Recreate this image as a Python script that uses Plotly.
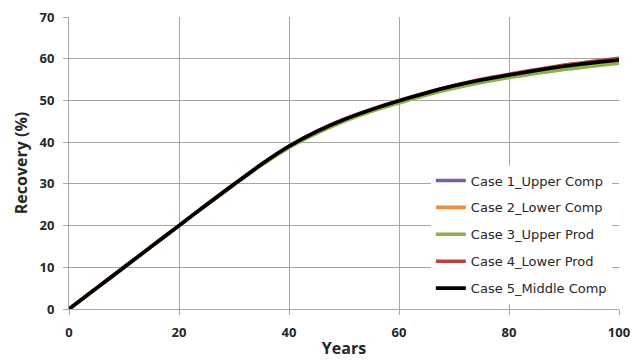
import plotly.graph_objects as go

years = [0, 5, 10, 15, 20, 25, 30, 35, 40, 45, 50, 55, 60, 65, 70, 75, 80, 85, 90, 95, 100]

case1_upper_comp = [0, 5, 10, 15, 20, 25, 29.9, 34.7, 39.0, 42.5, 45.4, 47.8, 49.9, 51.8, 53.5, 54.9, 56.1, 57.2, 58.2, 59.0, 59.7]
case2_lower_comp = [0, 5, 10, 15, 20, 25, 29.9, 34.6, 38.9, 42.4, 45.3, 47.7, 49.8, 51.7, 53.4, 54.8, 56.0, 57.1, 58.0, 58.8, 59.5]
case3_upper_prod = [0, 5, 10, 15, 20, 25, 29.8, 34.5, 38.7, 42.1, 45.0, 47.4, 49.4, 51.3, 52.9, 54.3, 55.5, 56.5, 57.4, 58.2, 58.9]
case4_lower_prod = [0, 5, 10, 15, 20, 25, 29.9, 34.7, 39.0, 42.6, 45.5, 47.9, 50.0, 51.9, 53.6, 55.1, 56.3, 57.4, 58.5, 59.3, 60.1]
case5_middle_comp = [0, 5, 10, 15, 20, 25, 29.9, 34.7, 39.0, 42.5, 45.4, 47.8, 49.9, 51.8, 53.5, 54.9, 56.1, 57.2, 58.2, 59.0, 59.7]

series_names = ["Case 1_Upper Comp", "Case 2_Lower Comp", "Case 3_Upper Prod",
                "Case 4_Lower Prod", "Case 5_Middle Comp"]
series_values = [case1_upper_comp, case2_lower_comp, case3_upper_prod,
                 case4_lower_prod, case5_middle_comp]
series_colors = ["#7D5FA0", "#F08C3C", "#8CB04E", "#B8453F", "#000000"]

x_ticks = [0, 20, 40, 60, 80, 100]
y_ticks = [0, 10, 20, 30, 40, 50, 60, 70]

fig = go.Figure()
for name, vals, col in zip(series_names, series_values, series_colors):
    fig.add_trace(go.Scatter(
        x=years, y=vals, mode="lines", name=name,
        line=dict(color=col, width=3.6, shape="spline", smoothing=0.6),
        legendgroup=name,
    ))

font_family = "'Open Sans', Lato, sans-serif"
legend_family = "'DejaVu Sans', 'Open Sans', sans-serif"
grid_col = "#A6A6A6"
txt_col = "#262626"

fig.update_layout(
    width=636, height=354,
    margin=dict(l=61, r=25, t=9, b=53),
    paper_bgcolor="white", plot_bgcolor="white",
    font=dict(family=font_family, color=txt_col),
    showlegend=True,
    legend=dict(
        x=0.987, y=0.255, xanchor="right", yanchor="middle",
        bgcolor="white", borderwidth=0,
        font=dict(size=13, family=legend_family, color=txt_col),
        tracegroupgap=7,
        traceorder="grouped",
    ),
    xaxis=dict(
        range=[0, 100], tickvals=x_ticks, ticktext=[str(v) for v in x_ticks],
        showgrid=True, gridcolor=grid_col, gridwidth=1,
        showline=True, linecolor=grid_col, linewidth=1,
        ticks="outside", ticklen=5, tickcolor=grid_col,
        ticklabelstandoff=6, ticklabeloverflow="allow",
        tickfont=dict(size=13, family=font_family, color=txt_col, weight="bold"),
        title=dict(text="<b>Years</b>", font=dict(size=16, family=font_family, color=txt_col), standoff=3),
        zeroline=False, automargin=False,
    ),
    yaxis=dict(
        range=[0, 70], tickvals=y_ticks, ticktext=[str(v) for v in y_ticks],
        showgrid=True, gridcolor=grid_col, gridwidth=1,
        showline=True, linecolor=grid_col, linewidth=1,
        ticks="outside", ticklen=5, tickcolor=grid_col,
        ticklabelstandoff=6, ticklabeloverflow="allow",
        tickfont=dict(size=13, family=font_family, color=txt_col, weight="bold"),
        title=dict(text="<b>Recovery (%)</b>", font=dict(size=16, family=font_family, color=txt_col), standoff=7),
        zeroline=False, automargin=False,
    ),
)

fig.write_html("out.html")
